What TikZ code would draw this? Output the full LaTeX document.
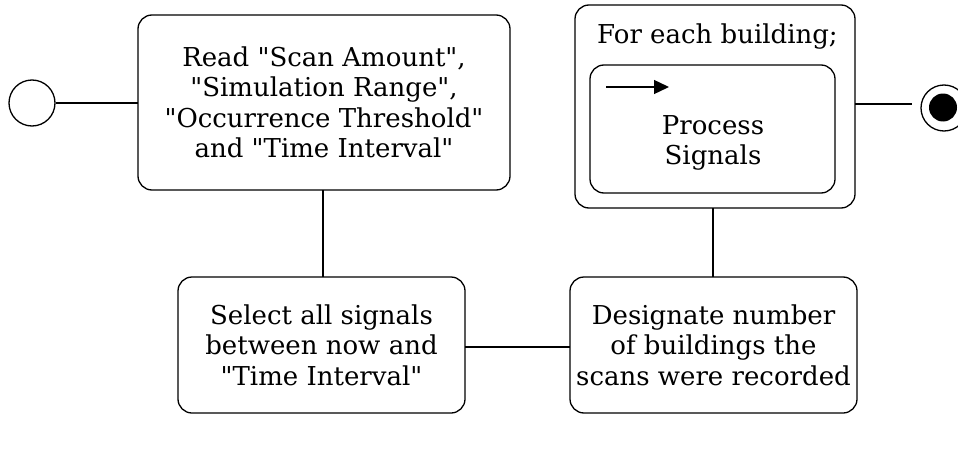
\documentclass[tikz,border=0pt]{standalone}
\usepackage{fontspec}
\setmainfont{DejaVu Serif}[Ligatures=TeXOff]
\usetikzlibrary{arrows.meta}
\begin{document}
\begin{tikzpicture}[x=1pt,y=-1pt,
  box/.style={draw, line width=1.3pt, rounded corners=14pt},
  txt/.style={align=center, font=\fontsize{26}{30.5}\selectfont},
  conn/.style={line width=1.6pt}]
\useasboundingbox (0,0) rectangle (958,452);
% start
\node[draw, circle, line width=1.3pt, minimum size=46pt, inner sep=0pt] (start) at (32,103) {};
% box1
\draw[box] (138,15) rectangle (510,190);
\node[txt] (b1) at (324,102.5) {Read "Scan Amount",\\"Simulation Range",\\"Occurrence Threshold"\\and "Time Interval"};
\coordinate (b1w) at (138,103);
\coordinate (b1s) at (323,190);
% box2
\draw[box] (178,277) rectangle (465,413);
\node[txt] (b2) at (321.5,345) {Select all signals\\between now and\\"Time Interval"};
\coordinate (b2n) at (323,277);
\coordinate (b2e) at (465,347);
% box3
\draw[box] (570,277) rectangle (857,413);
\node[txt] (b3) at (713.5,345) {Designate number\\of buildings the\\scans were recorded};
\coordinate (b3w) at (570,347);
\coordinate (b3n) at (713,277);
% outer
\draw[box] (575,5) rectangle (855,208);
\node[font=\fontsize{26}{30}\selectfont, anchor=west, inner sep=0pt] (fe) at (597,37) {For each building;};
\draw[box] (590,65) rectangle (835,193);
\coordinate (a1) at (606,87);
\coordinate (a2) at (669,87);
\draw[line width=1.4pt, -{Triangle[length=15pt,width=14pt]}] (a1) -- (a2);
\node[txt] (ps) at (713,143) {Process\\Signals};
\coordinate (ob) at (713,208);
\coordinate (oe) at (855,104);
% end
\node[draw, circle, line width=1.3pt, minimum size=46pt, inner sep=0pt] (end) at (944,108) {};
\node[fill, circle, minimum size=28pt, inner sep=0pt] (endin) at (943,107.5) {};
\coordinate (ee) at (912,104);
% connectors
\draw[conn] (start) -- (b1w);
\draw[conn] (b1s) -- (b2n);
\draw[conn] (b2e) -- (b3w);
\draw[conn] (b3n) -- (ob);
\draw[conn] (oe) -- (ee);
\end{tikzpicture}
\end{document}
